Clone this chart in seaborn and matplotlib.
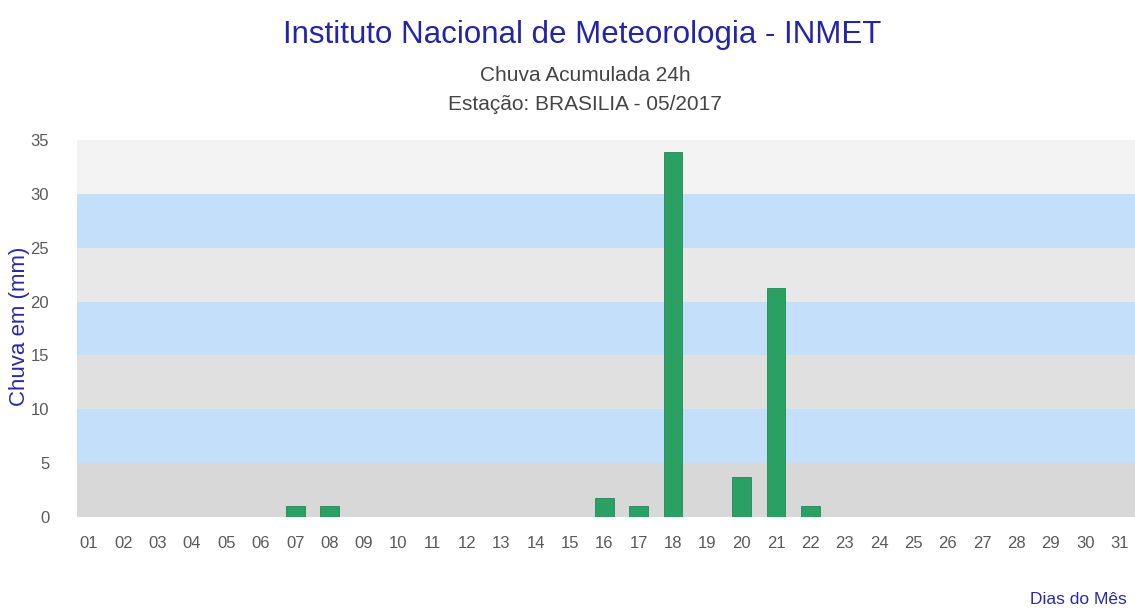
import numpy as np
import pandas as pd
import matplotlib
matplotlib.use('Agg')
import matplotlib.pyplot as plt
import seaborn as sns

# data (mm of rain per day, May 2017)
dias = [f'{d:02d}' for d in range(1, 32)]
chuva = [0, 0, 0, 0, 0, 0, 1.0, 1.0, 0, 0,
         0, 0, 0, 0, 0, 1.8, 1.0, 33.9, 0, 3.7,
         21.3, 1.0, 0, 0, 0, 0, 0, 0, 0, 0, 0]

# alternating background bands (gray / blue), gray getting lighter upward
faixas = [(0, 5), (5, 10), (10, 15), (15, 20), (20, 25), (25, 30), (30, 35)]
cores_faixas = ['#d8d8d8', '#c3dffa', '#e0e0e0', '#c3dffa', '#e8e8e8', '#c3dffa', '#f3f3f3']

df = pd.DataFrame({'Dia': dias, 'Chuva': chuva})

sns.set_style('white')
plt.rcParams['font.family'] = ['Liberation Sans', 'DejaVu Sans']

W, H = 1135, 613
fig = plt.figure(figsize=(W / 100, H / 100), dpi=100)
ax = fig.add_axes([77 / W, 1 - 517 / H, 1 - 77 / W, (517 - 140) / H])

for (y0, y1), c in zip(faixas, cores_faixas):
    ax.axhspan(y0, y1, color=c, zorder=0, lw=0)

sns.barplot(data=df, x='Dia', y='Chuva', color='#2aa063', width=0.55,
            saturation=1, edgecolor='#23885a', linewidth=0.6, ax=ax, zorder=2)

ax.set_xlim(-0.35, 30.45)
ax.set_ylim(0, 35)
ax.set_yticks(range(0, 36, 5))
ax.tick_params(axis='both', length=0, colors='#5a5a5a', labelsize=12)
ax.tick_params(axis='x', pad=14)
ax.tick_params(axis='y', pad=20)
for s in ax.spines.values():
    s.set_visible(False)
ax.set_xlabel('')
ax.set_ylabel('')

fig.text(20 / W, 1 - 326 / H, 'Chuva em (mm)', rotation=90, color='#2a2aa8',
         fontsize=16, ha='center', va='center')
fig.text(1127 / W, 1 - 604 / H, 'Dias do Mês', color='#2a2aa8',
         fontsize=12.5, ha='right', va='baseline')

fig.text(582 / W, 1 - 43 / H, 'Instituto Nacional de Meteorologia - INMET',
         color='#2424a8', fontsize=22.5, ha='center', va='baseline')
fig.text(585 / W, 1 - 81 / H, 'Chuva Acumulada 24h', color='#444444',
         fontsize=15, ha='center', va='baseline')
fig.text(585 / W, 1 - 110 / H, 'Estação: BRASILIA - 05/2017', color='#444444',
         fontsize=15, ha='center', va='baseline')

plt.savefig('out.png', dpi=100)
